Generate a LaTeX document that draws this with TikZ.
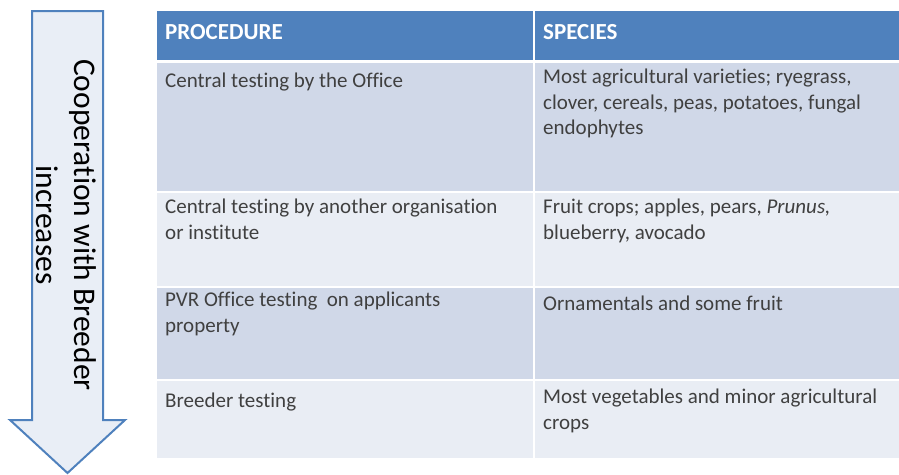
\documentclass[tikz,border=0pt]{standalone}
\usepackage{fontspec}
\setmainfont{Carlito}[Ligatures=NoCommon]
\usepackage{xcolor}
\usepackage{tikz}
\usetikzlibrary{positioning}

\definecolor{headblue}{HTML}{4F81BD}
\definecolor{rowdark}{HTML}{D0D8E8}
\definecolor{rowlight}{HTML}{E9EDF4}
\definecolor{arrowfill}{HTML}{E9EEF6}
\definecolor{bodytext}{HTML}{404040}

\begin{document}
\begin{tikzpicture}[
    x=1pt, y=-1pt,
    cell/.style={rectangle, anchor=north west, inner sep=0pt, minimum height=#1},
    leftcell/.style={cell=#1, minimum width=376pt},
    rightcell/.style={cell=#1, minimum width=364pt},
    headtext/.style={anchor=north west, inner sep=0pt, align=left, text=white, font=\fontsize{23}{27}\selectfont\bfseries, execute at begin node=\strut},
    bodytxt/.style={anchor=north west, inner sep=0pt, align=left, text=bodytext, font=\fontsize{21}{25.5}\selectfont, execute at begin node=\strut},
    coopshape/.style={draw=headblue, fill=arrowfill, line width=2pt, line join=miter},
    cooptext/.style={align=center, inner sep=0pt, font=\fontsize{31.5}{38}\selectfont}
]
\useasboundingbox (0,0) rectangle (899,474);

% Arrow
\draw[coopshape] (32,11) -- (103,11) -- (103,420) -- (125,420) -- (67.5,473)
    -- (10,420) -- (32,420) -- cycle;
\node[cooptext, rotate=-90] (coop) at (66,225) {Cooperation with Breeder\\increases};

% Cells
\node[leftcell=49pt, fill=headblue] (hproc) at (157,11) {};
\node[rightcell=49pt, fill=headblue] (hspec) at (534.5,11) {};
\node[leftcell=128pt, fill=rowdark] (proc1) at (157,63) {};
\node[rightcell=128pt, fill=rowdark] (spec1) at (534.5,63) {};
\node[leftcell=93pt, fill=rowlight] (proc2) at (157,193) {};
\node[rightcell=93pt, fill=rowlight] (spec2) at (534.5,193) {};
\node[leftcell=91pt, fill=rowdark] (proc3) at (157,288) {};
\node[rightcell=91pt, fill=rowdark] (spec3) at (534.5,288) {};
\node[leftcell=77pt, fill=rowlight] (proc4) at (157,381) {};
\node[rightcell=77pt, fill=rowlight] (spec4) at (534.5,381) {};

% Texts
\node[headtext] (tproc) at (165,20) {PROCEDURE};
\node[headtext] (tspec) at (543,20) {SPECIES};
\node[bodytxt] (tproc1) at (165,69) {Central testing by the Office};
\node[bodytxt] (tspec1) at (543,69) {Most agricultural varieties; ryegrass,\\clover, cereals, peas, potatoes, fungal\\endophytes};
\node[bodytxt] (tproc2) at (165,199) {Central testing by another organisation\\or institute};
\node[bodytxt] (tspec2) at (543,199) {Fruit crops; apples, pears, \textit{Prunus,}\\blueberry, avocado};
\node[bodytxt] (tproc3) at (165,292) {PVR Office testing\ \ on applicants\\property};
\node[bodytxt] (tspec3) at (543,292) {Ornamentals and some fruit};
\node[bodytxt] (tproc4) at (165,389) {Breeder testing};
\node[bodytxt] (tspec4) at (543,389) {Most vegetables and minor agricultural\\crops};

\end{tikzpicture}
\end{document}
